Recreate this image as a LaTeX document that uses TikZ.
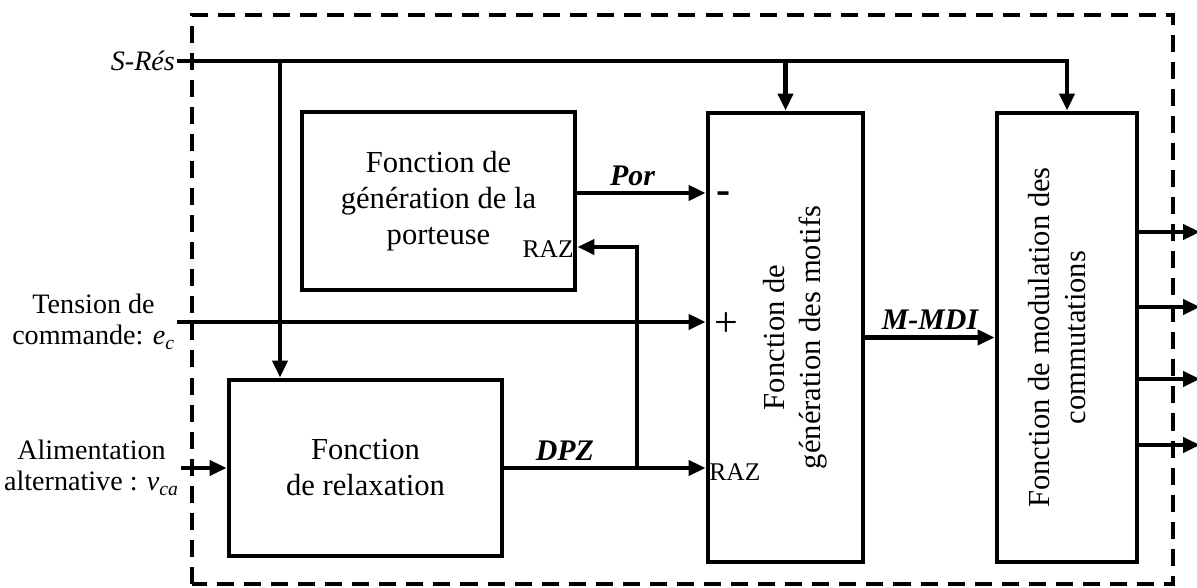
\documentclass[tikz,border=0pt]{standalone}
\usepackage{fontspec}
\setmainfont{Liberation Serif}
\usetikzlibrary{arrows.meta}

\begin{document}
\begin{tikzpicture}[>={Triangle[length=0.34cm,width=0.3cm]},
  bloc/.style={draw, line width=2.8pt, inner sep=0pt},
  sig/.style={line width=2.6pt},
  txt/.style={align=center, font=\fontsize{17.4}{20.5}\selectfont},
  lbl/.style={align=center, inner sep=1pt, font=\fontsize{16}{17.5}\selectfont},
  nom/.style={font=\fontsize{17}{20}\selectfont\bfseries\itshape, inner sep=3pt},
  port/.style={font=\fontsize{14.5}{17}\selectfont, inner sep=2pt},
  signe/.style={anchor=west, inner sep=6pt, font=\fontsize{24}{26}\selectfont}]
\useasboundingbox (0,0) rectangle (23.94,11.76);
\draw[line width=2.2pt, dash pattern=on 9.7pt off 5.7pt] (3.84,0.08) rectangle (23.46,11.46);

\node[bloc, txt, minimum width=5.46cm, minimum height=3.56cm] (port) at (8.77,7.74) {Fonction de\\génération de la\\porteuse};
\node[bloc, txt, minimum width=5.46cm, minimum height=3.52cm] (relax) at (7.31,2.4) {Fonction\\de relaxation};
\node[bloc, minimum width=3.1cm, minimum height=8.98cm] (motifs) at (15.71,5.01) {};
\node[bloc, minimum width=2.8cm, minimum height=8.98cm] (modul) at (21.34,5.01) {};
\node[txt, rotate=90] (tmotifs) at ([xshift=0.2cm]motifs.center) {Fonction de\\génération des motifs};
\node[txt, rotate=90] (tmodul) at ([xshift=-0.2cm]modul.center) {Fonction de modulation des\\commutations};

\node[lbl, anchor=east] (sres) at (3.54,10.54) {\textit{S-Rés}};
\node[lbl, anchor=east] (tens) at (3.54,5.32) {Tension de\\commande: \textit{e}\textsubscript{\textit{c}}};
\node[lbl, anchor=east] (alim) at (3.62,2.4) {Alimentation\\alternative : \textit{v}\textsubscript{\textit{ca}}};

\node[signe] (moins) at (motifs.west |- 0,7.8) {\textbf{-}};
\node[signe, inner sep=5pt] (plus) at (motifs.west |- 0,5.26) {+};
\node[port, anchor=west] (razm) at (motifs.west |- 0,2.32) {RAZ};
\node[port, anchor=east] (razp) at (port.east |- 0,6.78) {RAZ};

\coordinate (jr) at (5.6,10.54);
\coordinate (jraz) at (12.74,2.4);
\draw[sig,->] (sres.east) -| (modul.north);
\draw[sig,->] (motifs.north |- sres.east) -- (motifs.north);
\draw[sig,->] (jr) -- (jr |- relax.north);
\draw[sig,->] (port.east |- 0,7.9) -- (motifs.west |- 0,7.9) node[nom, pos=0.43, above] {Por};
\draw[sig,->] (jraz) |- (port.east |- 0,6.82);
\draw[sig,->] (tens.east) -- (motifs.west |- tens.east);
\draw[sig,->] (alim.east) -- (relax.west);
\draw[sig,->] (relax.east) -- (motifs.west |- relax.east) node[nom, pos=0.3, above] {DPZ};
\draw[sig,->] (motifs.east) -- (modul.west) node[nom, midway, above] {M-MDI};
\foreach \y [count=\i] in {7.12,5.62,4.18,2.86} {
  \coordinate (s\i) at (24.0,\y);
  \draw[sig,->] (modul.east |- s\i) -- (s\i);
}
\end{tikzpicture}
\end{document}
